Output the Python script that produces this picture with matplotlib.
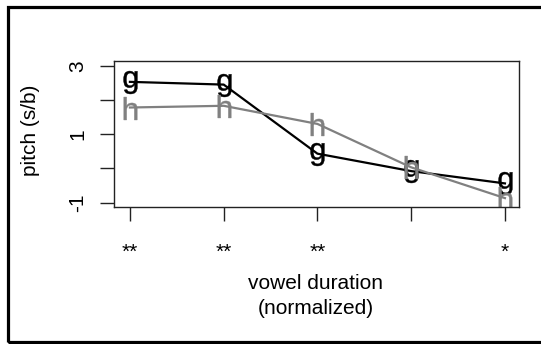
import matplotlib
matplotlib.use("Agg")
import matplotlib.pyplot as plt
from matplotlib.patches import Rectangle

plt.rcParams['font.family'] = ['Liberation Sans', 'DejaVu Sans']
plt.rcParams['mathtext.fontset'] = 'custom'
plt.rcParams['mathtext.rm'] = 'Liberation Sans'

# vowel duration bins (normalized)
x = [1, 2, 3, 4, 5]
g_pitch = [2.53, 2.45, 0.43, -0.08, -0.44]
h_pitch = [1.78, 1.83, 1.30, 0.03, -0.87]

y_ticks = [3, 2, 1, 0, -1]
y_labels = ['3', '', '1', '', '-1']
x_labels = ['**', '**', '**', '', '*']

fig = plt.figure(figsize=(5.41, 3.44), dpi=100)
ax = fig.add_axes([114 / 541, 1 - 207 / 344, 405 / 541, 146 / 344])

ax.plot(x, g_pitch, color='black', lw=1.6, marker=r'$\mathregular{g}$',
        markersize=16.5, markeredgewidth=0.3)
ax.plot(x, h_pitch, color='#808080', lw=1.6, marker=r'$\mathregular{h}$',
        markersize=16.5, markeredgewidth=0.3)

ax.set_xlim(0.83, 5.15)
ax.set_ylim(-1.13, 3.14)

ax.set_yticks(y_ticks)
ax.set_yticklabels(y_labels, rotation=90, va='center')
ax.set_xticks(x)
ax.set_xticklabels(x_labels)
ax.tick_params(axis='both', length=10, width=1, labelsize=15, color='#222222')
ax.tick_params(axis='y', pad=9)
ax.tick_params(axis='x', pad=16)

for s in ax.spines.values():
    s.set_linewidth(1.0)
    s.set_color('#222222')

fig.text(31 / 541, 1 - 130 / 344, 'pitch (s/b)', rotation=90,
         ha='center', va='center', fontsize=15)
fig.text(316 / 541, 1 - 296 / 344, 'vowel duration\n(normalized)',
         ha='center', va='center', multialignment='center',
         fontsize=15, linespacing=1.45)

# outer frame, open on the right
fig.patches.append(Rectangle((8 / 541, 1 - 342 / 344), 1.5, 335 / 344,
                             transform=fig.transFigure, fill=False,
                             edgecolor='black', lw=2.3, clip_on=False))

fig.savefig('out.png', dpi=100)
